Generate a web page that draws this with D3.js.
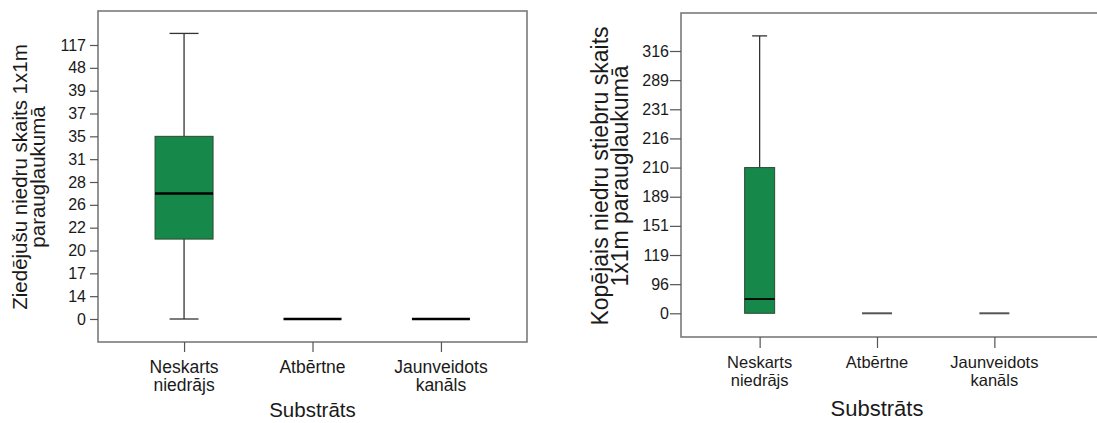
<!DOCTYPE html>
<html>
<head>
<meta charset="utf-8">
<script src="https://cdn.jsdelivr.net/npm/d3@7"></script>
<style>
  body { margin: 0; background: #fff; }
  svg { font-family: "Liberation Sans", Arial, sans-serif; }
</style>
</head>
<body>
<svg id="chart" width="1097" height="423"></svg>
<script>
// categories on the x axis (label lines)
const categories = ["Neskarts niedrājs", "Atbērtne", "Jaunveidots kanāls"];
const categoryLines = [["Neskarts", "niedrājs"], ["Atbērtne"], ["Jaunveidots", "kanāls"]];

// y tick labels (SPSS style: evenly spaced, uneven values)
const leftTicks = [0, 14, 17, 20, 22, 26, 28, 31, 35, 37, 39, 48, 117];
const rightTicks = [0, 96, 119, 151, 189, 210, 216, 231, 289, 316];

// box stats: min, q1, median, q3, max
const leftBoxes = [
  {min: 0, q1: 21, median: 27, q3: 35, max: 152},
  {min: 0, q1: 0, median: 0, q3: 0, max: 0},
  {min: 0, q1: 0, median: 0, q3: 0, max: 0}
];
const rightBoxes = [
  {min: 0, q1: 0, median: 47, q3: 210, max: 330},
  {min: 0, q1: 0, median: 0, q3: 0, max: 0},
  {min: 0, q1: 0, median: 0, q3: 0, max: 0}
];

const svg = d3.select("#chart");
const green = "#16894a";
const frameColor = "#7a7a7a";
const textColor = "#1a1a1a";

function drawPanel(opt) {
  const g = svg.append("g");

  // index scale: tick i sits at an even step
  const yIdx = d3.scaleLinear().domain([0, opt.ticks.length - 1]).range([opt.y0, opt.yTop]);
  const y = d3.scaleLinear().domain(opt.ticks).range(opt.ticks.map((d, i) => yIdx(i)));

  const x = d3.scalePoint().domain(categories).range([opt.left, opt.right]).padding(0.67);

  // frame
  g.append("rect")
    .attr("x", opt.left).attr("y", opt.top)
    .attr("width", opt.frameRight - opt.left).attr("height", opt.bottom - opt.top)
    .attr("fill", "none").attr("stroke", frameColor).attr("stroke-width", 1.6);

  // y axis
  const ya = g.append("g")
    .attr("transform", `translate(${opt.left},0)`)
    .call(d3.axisLeft(y).tickValues(opt.ticks).tickFormat(d3.format("d"))
      .tickSize(opt.tickLen).tickPadding(opt.tickPad));
  ya.select(".domain").remove();
  ya.selectAll(".tick line").attr("stroke", "#555").attr("stroke-width", 1.2);
  ya.selectAll(".tick text").attr("fill", textColor).style("font-size", opt.tickFont + "px")
    .style("font-family", "Liberation Sans, Arial, sans-serif");

  // x axis
  const xa = g.append("g")
    .attr("transform", `translate(0,${opt.bottom})`)
    .call(d3.axisBottom(x).tickSize(opt.xTickLen).tickFormat(""));
  xa.select(".domain").remove();
  xa.selectAll(".tick line").attr("stroke", "#555").attr("stroke-width", 1.2);

  categories.forEach(function (c, i) {
    const t = g.append("text")
      .attr("x", x(c)).attr("y", opt.bottom + opt.catDy)
      .attr("text-anchor", "middle")
      .attr("fill", textColor)
      .style("font-size", opt.catFont + "px");
    categoryLines[i].forEach(function (line, j) {
      t.append("tspan").attr("x", x(c)).attr("dy", j === 0 ? 0 : opt.catLine).text(line);
    });
  });

  // x title
  g.append("text")
    .attr("x", x(categories[1])).attr("y", opt.xTitleY)
    .attr("text-anchor", "middle").attr("fill", textColor)
    .style("font-size", opt.xTitleFont + "px")
    .text("Substrāts");

  // y title (two lines)
  opt.yTitle.forEach(function (line, j) {
    g.append("text")
      .attr("transform", `translate(${opt.yTitleX[j]},${opt.yTitleMid}) rotate(-90)`)
      .attr("text-anchor", "middle").attr("fill", textColor)
      .style("font-size", opt.yTitleFont + "px")
      .text(line);
  });

  // boxes
  opt.boxes.forEach(function (b, i) {
    const cx = x(categories[i]);
    const bw = opt.boxWidth;
    if (b.max === b.min) {
      g.append("line")
        .attr("x1", cx - bw / 2).attr("x2", cx + bw / 2)
        .attr("y1", y(b.median)).attr("y2", y(b.median))
        .attr("stroke", opt.flatColor).attr("stroke-width", opt.flatWidth);
      return;
    }
    // whiskers
    g.append("line").attr("x1", cx).attr("x2", cx)
      .attr("y1", y(b.max)).attr("y2", y(b.q3))
      .attr("stroke", "#333").attr("stroke-width", 1.3);
    g.append("line").attr("x1", cx - bw / 4).attr("x2", cx + bw / 4)
      .attr("y1", y(b.max)).attr("y2", y(b.max))
      .attr("stroke", "#333").attr("stroke-width", 1.3);
    if (b.min < b.q1) {
      g.append("line").attr("x1", cx).attr("x2", cx)
        .attr("y1", y(b.q1)).attr("y2", y(b.min))
        .attr("stroke", "#333").attr("stroke-width", 1.3);
      g.append("line").attr("x1", cx - bw / 4).attr("x2", cx + bw / 4)
        .attr("y1", y(b.min)).attr("y2", y(b.min))
        .attr("stroke", "#333").attr("stroke-width", 1.3);
    }
    g.append("rect")
      .attr("x", cx - bw / 2).attr("y", y(b.q3))
      .attr("width", bw).attr("height", y(b.q1) - y(b.q3))
      .attr("fill", green).attr("stroke", "#2a4a33").attr("stroke-width", 1);
    g.append("line")
      .attr("x1", cx - bw / 2).attr("x2", cx + bw / 2)
      .attr("y1", y(b.median)).attr("y2", y(b.median))
      .attr("stroke", "#000").attr("stroke-width", opt.medianWidth);
  });
}

drawPanel({
  ticks: leftTicks, boxes: leftBoxes,
  left: 98, right: 527, frameRight: 527, top: 11, bottom: 342,
  y0: 319, yTop: 45,
  tickLen: 8, tickPad: 4, tickFont: 16,
  xTickLen: 10, catDy: 31, catLine: 18, catFont: 17.5,
  xTitleY: 417, xTitleFont: 20.5,
  yTitle: ["Ziedējušu niedru skaits 1x1m", "parauglaukumā"],
  yTitleX: [27, 45], yTitleMid: 177, yTitleFont: 20.5,
  boxWidth: 58, flatColor: "#000", flatWidth: 2.5, medianWidth: 2.5
});

drawPanel({
  ticks: rightTicks, boxes: rightBoxes,
  left: 681, right: 1073, frameRight: 1105, top: 13, bottom: 337,
  y0: 313.3, yTop: 51,
  tickLen: 11, tickPad: 1, tickFont: 16,
  xTickLen: 11, catDy: 30.5, catLine: 18.5, catFont: 16.5,
  xTitleY: 416, xTitleFont: 22,
  yTitle: ["Kopējais niedru stiebru skaits", "1x1m parauglaukumā"],
  yTitleX: [608, 628], yTitleMid: 176, yTitleFont: 23,
  boxWidth: 30, flatColor: "#555", flatWidth: 2, medianWidth: 1.8
});
</script>
</body>
</html>
